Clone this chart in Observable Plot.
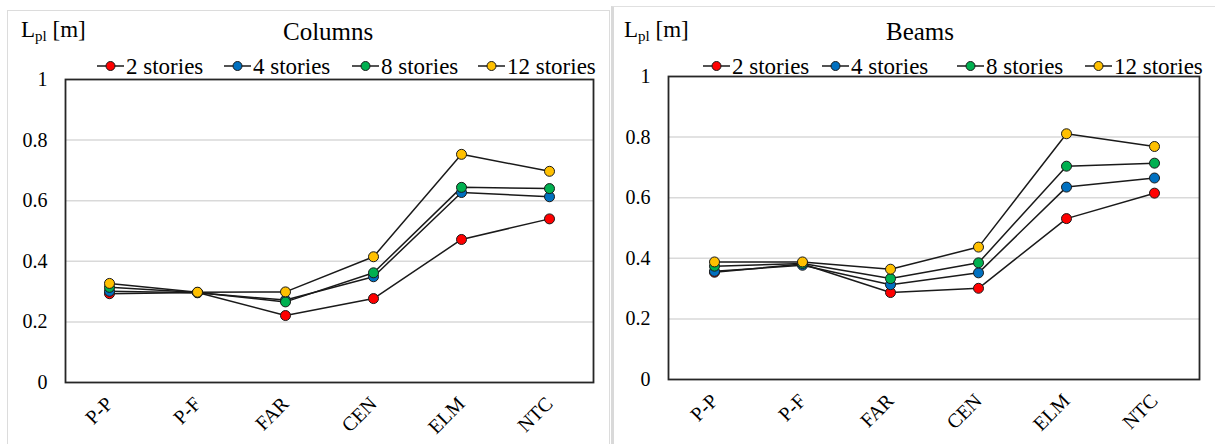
<!DOCTYPE html>
<html><head><meta charset="utf-8">
<script src="https://cdn.jsdelivr.net/npm/d3@7"></script>
<script src="https://cdn.jsdelivr.net/npm/@observablehq/plot@0.6"></script>
<style>
html,body{margin:0;padding:0;background:#fff;}
#root{position:relative;width:1215px;height:444px;overflow:hidden;font-family:"Liberation Serif","Times New Roman",serif;color:#000;}
.abs{position:absolute;white-space:nowrap;line-height:1;}
.title{font-size:25px;}
.ylab{font-size:23px;}
.ylab sub{font-size:15px;vertical-align:baseline;position:relative;top:4px;}
.leg{font-size:23px;display:flex;align-items:center;}
.leg svg{margin-right:2px;}
.plot{position:absolute;top:60px;}
</style></head><body><div id="root"></div>
<script>
const categories = ["P-P", "P-F", "FAR", "CEN", "ELM", "NTC"];
const series = ["2 stories", "4 stories", "8 stories", "12 stories"];
const colors = ["#ff0000", "#0070c0", "#00b050", "#ffc000"];
const yTicks = [0, 0.2, 0.4, 0.6, 0.8, 1];
const gridTicks = [0.2, 0.4, 0.6, 0.8];

const columns2 = [0.293, 0.297, 0.221, 0.277, 0.472, 0.540];
const columns4 = [0.301, 0.296, 0.272, 0.349, 0.627, 0.613];
const columns8 = [0.314, 0.297, 0.266, 0.362, 0.644, 0.640];
const columns12 = [0.327, 0.298, 0.299, 0.415, 0.753, 0.697];

const beams2 = [0.354, 0.381, 0.287, 0.301, 0.531, 0.615];
const beams4 = [0.357, 0.377, 0.313, 0.352, 0.635, 0.665];
const beams8 = [0.374, 0.383, 0.333, 0.385, 0.704, 0.714];
const beams12 = [0.388, 0.388, 0.364, 0.437, 0.811, 0.769];

function toLong(arrays) {
  const out = [];
  arrays.forEach((vals, i) => vals.forEach((v, j) => out.push({series: series[i], category: categories[j], value: v})));
  return out;
}

const root = document.getElementById("root");

function addDiv(cls, html, left, top) {
  const d = document.createElement("div");
  d.className = "abs " + cls;
  d.innerHTML = html;
  d.style.left = left + "px";
  d.style.top = top + "px";
  root.appendChild(d);
  return d;
}

// panel borders
const b1 = document.createElement("div");
Object.assign(b1.style, {position: "absolute", left: "7px", top: "10px", width: "603px", height: "450px", borderLeft: "1px solid #dcdcdc", borderTop: "1px solid #dcdcdc", borderRight: "1px solid #dcdcdc", boxSizing: "border-box"});
root.appendChild(b1);
const b2 = document.createElement("div");
Object.assign(b2.style, {position: "absolute", left: "611px", top: "6px", width: "620px", height: "450px", borderLeft: "3px solid #d9d9d9", borderTop: "1px solid #e0e0e0", boxSizing: "border-box"});
root.appendChild(b2);

function makePlot(data, o) {
  return Plot.plot({
    width: o.width, height: 384,
    marginLeft: o.ml, marginRight: o.mr, marginTop: o.mt, marginBottom: o.mb,
    style: {background: "transparent", fontFamily: "Liberation Serif, Times New Roman, serif", color: "#000", overflow: "visible"},
    x: {type: "point", domain: categories, padding: 0.5, label: null},
    y: {domain: [0, 1], label: null},
    color: {domain: series, range: colors},
    marks: [
      Plot.gridY(gridTicks, {stroke: "#d9d9d9", strokeOpacity: 1, strokeWidth: 1.5}),
      Plot.axisY(yTicks, {tickSize: 0, tickPadding: 18, fontSize: 20, tickFormat: d => String(d)}),
      Plot.axisX({tickRotate: -45, tickSize: 0, tickPadding: 18, fontSize: 20}),
      Plot.line(data, {x: "category", y: "value", z: "series", stroke: "#1a1a1a", strokeWidth: 1.5}),
      Plot.dot(data, {x: "category", y: "value", fill: "series", stroke: "#1a1a1a", strokeWidth: 1, r: 5}),
      Plot.frame({stroke: "#262626", strokeWidth: 1.8})
    ]
  });
}

function addLegend(xs, top) {
  series.forEach((s, i) => {
    const html = `<svg width="27" height="12" viewBox="0 0 27 12"><line x1="0" y1="6" x2="27" y2="6" stroke="#1a1a1a" stroke-width="1.5"/><circle cx="13.5" cy="6" r="4.5" fill="${colors[i]}" stroke="#1a1a1a" stroke-width="1"/></svg><span>${s}</span>`;
    addDiv("leg", html, xs[i], top);
  });
}

// left panel
const p1 = makePlot(toLong([columns2, columns4, columns8, columns12]), {width: 610, ml: 65, mr: 17, mt: 19, mb: 62});
p1.classList.add("plot"); p1.style.left = "0px"; root.appendChild(p1);
const t1 = addDiv("title", "Columns", 0, 19); t1.style.left = (328 - t1.offsetWidth / 2) + "px";
addDiv("ylab", "L<sub>pl</sub> [m]", 21, 18);
addLegend([97, 224, 352, 478], 54.5);

// right panel
const p2 = makePlot(toLong([beams2, beams4, beams8, beams12]), {width: 605, ml: 58, mr: 16, mt: 16, mb: 65});
p2.classList.add("plot"); p2.style.left = "610px"; root.appendChild(p2);
const t2 = addDiv("title", "Beams", 0, 19); t2.style.left = (920 - t2.offsetWidth / 2) + "px";
addDiv("ylab", "L<sub>pl</sub> [m]", 624, 18);
addLegend([703, 822, 957, 1085], 54.5);
</script>
</body></html>
